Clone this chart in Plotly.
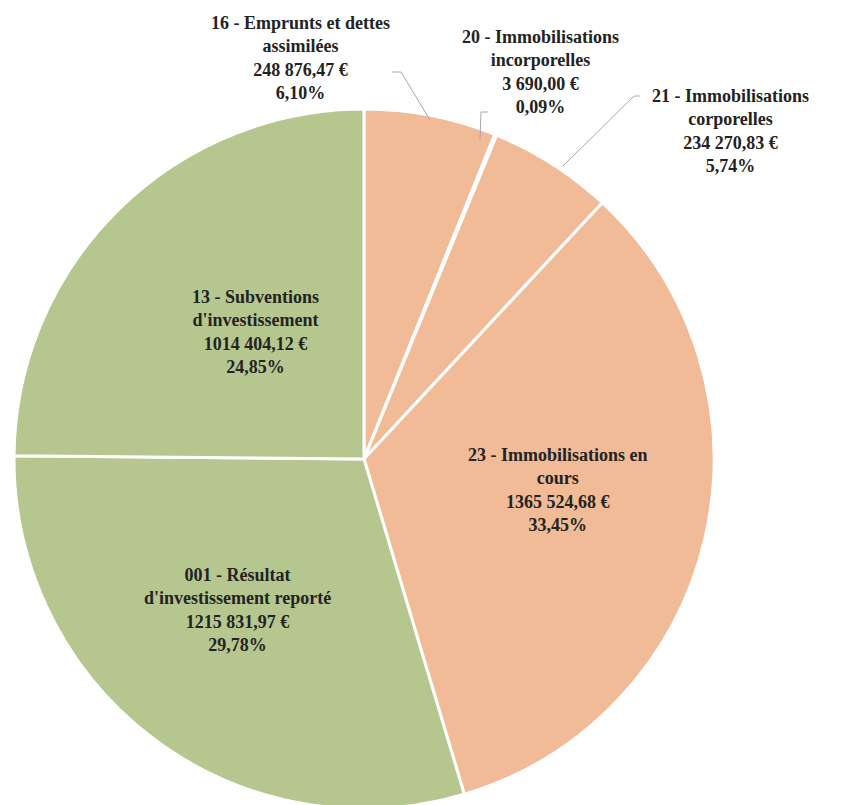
import plotly.graph_objects as go

W, H = 843, 805
OFF = 8  # default page body margin

# ---- data ----
codes = ["16", "20", "21", "23", "001", "13"]
names = ["16 - Emprunts et dettes<br>assimilées",
         "20 - Immobilisations<br>incorporelles",
         "21 - Immobilisations<br>corporelles",
         "23 - Immobilisations en<br>cours",
         "001 - Résultat<br>d'investissement reporté",
         "13 - Subventions<br>d'investissement"]
values = [248876.47, 3690.00, 234270.83, 1365524.68, 1215831.97, 1014404.12]
colors = ["#F0BB96", "#F0BB96", "#F0BB96", "#F0BB96", "#B5C78F", "#B5C78F"]

# label anchor positions (window pixels, centre of text block)
label_pos = [(300, 58), (540, 72), (730, 131), (558, 490), (237, 610), (255, 332)]

# leader lines (window pixels) for the outer labels
leaders = {
    0: [(392, 72), (401, 72), (430, 120)],
    1: [(488, 112), (481, 112), (480, 140)],
    2: [(640, 96), (634, 96), (563, 166)],
}

total = sum(values)


def fmt_eur(v):
    s = f"{v:.2f}"
    ip, dp = s.split(".")
    if len(ip) > 3:
        ip = ip[:-3] + " " + ip[-3:]
    return f"{ip},{dp} €"


def fmt_pct(v):
    return f"{v / total * 100:.2f}".replace(".", ",") + "%"


def px(x, y):
    return (x - OFF) / W, 1 - (y - OFF) / H


cx, cy, r = 364, 459, 350
x0, y1 = px(cx - r, cy - r)
x1, y0 = px(cx + r, cy + r)

fig = go.Figure(go.Pie(
    labels=codes,
    values=values,
    sort=False,
    direction="clockwise",
    rotation=0,
    marker=dict(colors=colors, line=dict(color="white", width=3)),
    textinfo="none",
    hoverinfo="label+value+percent",
    showlegend=False,
    domain=dict(x=[max(0, x0), min(1, x1)], y=[max(0, y0), min(1, y1)]),
))

for i, (nm, v) in enumerate(zip(names, values)):
    x, y = px(*label_pos[i])
    fig.add_annotation(
        x=x, y=y, xref="paper", yref="paper",
        text=f"{nm}<br>{fmt_eur(v)}<br>{fmt_pct(v)}",
        showarrow=False, align="center",
        xanchor="center", yanchor="middle",
        font=dict(family="Liberation Serif", size=18, color="#232323",
                  weight="bold"),
    )

for i, pts in leaders.items():
    path = "M " + " L ".join("{},{}".format(*px(*p)) for p in pts)
    fig.add_shape(type="path", path=path, xref="paper", yref="paper",
                  line=dict(color="#A8A8A8", width=1))

fig.update_layout(
    width=W, height=H,
    margin=dict(l=0, r=0, t=0, b=0),
    paper_bgcolor="white",
    plot_bgcolor="white",
)

fig.write_html("out.html")
